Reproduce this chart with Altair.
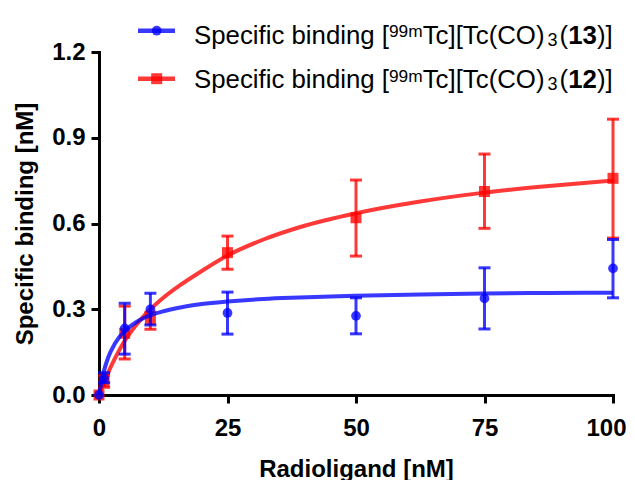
import altair as alt
import pandas as pd

# ---- data ----
conc = [0, 1, 5, 10, 25, 50, 75, 100]
b13_mean = [0.0, 0.058, 0.233, 0.300, 0.287, 0.277, 0.338, 0.443]
b13_low = [0.0, 0.043, 0.143, 0.245, 0.213, 0.214, 0.231, 0.340]
b13_high = [0.0, 0.078, 0.321, 0.356, 0.360, 0.340, 0.445, 0.544]
b12_mean = [0.0, 0.047, 0.216, 0.264, 0.498, 0.620, 0.712, 0.758]
b12_low = [0.0, 0.027, 0.126, 0.230, 0.440, 0.486, 0.583, 0.549]
b12_high = [0.0, 0.069, 0.311, 0.290, 0.556, 0.752, 0.843, 0.965]

fit13_x = [0, 0.84, 1.8, 3.1, 5, 7, 8.9, 12.1, 16.3, 20, 25, 32, 39, 50, 62.5, 75, 87.5, 100]
fit13_y = [0, 0.076, 0.132, 0.180, 0.224, 0.252, 0.271, 0.291, 0.308, 0.318, 0.327, 0.336,
           0.341, 0.347, 0.352, 0.355, 0.357, 0.358]
fit12_x = [0, 1, 2, 3.1, 5, 7, 8.8, 12.1, 16, 20, 25, 32, 39, 50, 62.5, 75, 87.5, 100]
fit12_y = [0, 0.045, 0.087, 0.128, 0.190, 0.240, 0.278, 0.334, 0.387, 0.434, 0.488, 0.544,
           0.587, 0.636, 0.677, 0.708, 0.731, 0.750]

x_ticks = [0, 25, 50, 75, 100]
y_ticks = [0, 0.3, 0.6, 0.9, 1.2]

leg_prefix = "Specific binding ["
leg_sup = "99m"
leg_mid = "Tc][Tc(CO)"
leg_sub = "3"
leg_open = "("
leg_ids = ["13", "12"]
leg_close = ")]"

BLUE = "#0000ff"
RED = "#ff0000"
ALPHA = 0.78
FONT = "Liberation Sans"

pts = pd.DataFrame({
    "conc": conc * 2,
    "val": b13_mean + b12_mean,
    "lo": b13_low + b12_low,
    "hi": b13_high + b12_high,
    "series": ["13"] * len(conc) + ["12"] * len(conc),
})
fits = pd.DataFrame({
    "conc": fit13_x + fit12_x,
    "val": fit13_y + fit12_y,
    "series": ["13"] * len(fit13_x) + ["12"] * len(fit12_x),
})

xs = alt.Scale(domain=[0, 100], nice=False, zero=False)
ys = alt.Scale(domain=[0, 1.2], nice=False, zero=False)
x_axis = alt.Axis(values=x_ticks, title="Radioligand [nM]", titleY=81,
                  titleBaseline="alphabetic", labelPadding=13, labelFlush=False,
                  labelOffset=alt.condition("datum.value == 100", alt.value(-7), alt.value(0)))
y_axis = alt.Axis(values=y_ticks, format=".1f", title="Specific binding [nM]",
                  titleX=-66.6, titleBaseline="alphabetic", labelPadding=6,
                  labelFlush=False)


def X(f):
    return alt.X(f"{f}:Q", scale=xs, axis=x_axis)


def Y(f):
    return alt.Y(f"{f}:Q", scale=ys, axis=y_axis)


def series_layers(sid, color, shape, size):
    p = pts[pts.series == sid]
    pe = p[p.conc > 0]
    f = fits[fits.series == sid]
    curve = alt.Chart(f).mark_line(color=color, strokeWidth=4, opacity=ALPHA,
                                   interpolate="monotone").encode(x=X("conc"), y=Y("val"))
    bars = alt.Chart(pe).mark_rule(color=color, strokeWidth=3, opacity=ALPHA).encode(
        x=X("conc"), y=Y("lo"), y2="hi")
    cap_lo = alt.Chart(pe).mark_tick(color=color, orient="horizontal", size=12,
                                     thickness=3, opacity=ALPHA).encode(x=X("conc"), y=Y("lo"))
    cap_hi = alt.Chart(pe).mark_tick(color=color, orient="horizontal", size=12,
                                     thickness=3, opacity=ALPHA).encode(x=X("conc"), y=Y("hi"))
    marks = alt.Chart(p).mark_point(color=color, shape=shape, filled=True, size=size,
                                    opacity=ALPHA).encode(x=X("conc"), y=Y("val"))
    return [curve, bars, cap_lo, cap_hi, marks]


def one(txt):
    return pd.DataFrame({"t": [txt]})


def legend_row(idx, color, shape, size, ly, base):
    layers = []
    layers.append(alt.Chart(one("")).mark_rule(color=color, strokeWidth=4.5, opacity=ALPHA).encode(
        x=alt.value(39), x2=alt.value(76), y=alt.value(ly)))
    layers.append(alt.Chart(one("")).mark_point(color=color, shape=shape, filled=True, size=size,
                                                opacity=ALPHA).encode(
        x=alt.value(57.7), y=alt.value(ly)))
    segs = [
        (leg_prefix, 95.0, 0, 25.8, "normal"),
        (leg_sup, 290.0, -6.2, 17.3, "normal"),
        (leg_mid, 323.7, 0, 25.8, "normal"),
        (leg_sub, 448.6, 2.5, 18, "normal"),
        (leg_open, 460.6, 0, 25.8, "normal"),
        (leg_ids[idx], 469.2, 0, 25.8, "bold"),
        (leg_close, 498.0, 0, 25.8, "normal"),
    ]
    for txt, sx, dy, fs, fw in segs:
        layers.append(alt.Chart(one(txt)).mark_text(
            align="left", baseline="alphabetic", font=FONT, fontSize=fs,
            fontWeight=fw, color="black").encode(
            text="t:N", x=alt.value(sx), y=alt.value(base + dy)))
    return layers


layers = []
layers += series_layers("12", RED, "square", 121)
layers += series_layers("13", BLUE, "circle", 95)
layers += legend_row(0, BLUE, "circle", 95, -21.3, -8.5)
layers += legend_row(1, RED, "square", 121, 26.7, 35.7)

chart = alt.layer(*layers).properties(
    width=514, height=343,
    autosize=alt.AutoSizeParams(type="none"),
    padding={"left": 91, "top": 44, "right": 14, "bottom": 86},
    background="white",
).configure_view(stroke=None).configure_axis(
    grid=False, domainColor="black", domainWidth=3, domainCap="square",
    tickColor="black", tickWidth=3, tickSize=8,
    labelColor="black", titleColor="black",
    labelFont=FONT, titleFont=FONT, labelFontSize=24, titleFontSize=24,
    labelFontWeight="bold", titleFontWeight="bold",
)

chart.save("out.html", embed_options={"renderer": "svg", "actions": False})
